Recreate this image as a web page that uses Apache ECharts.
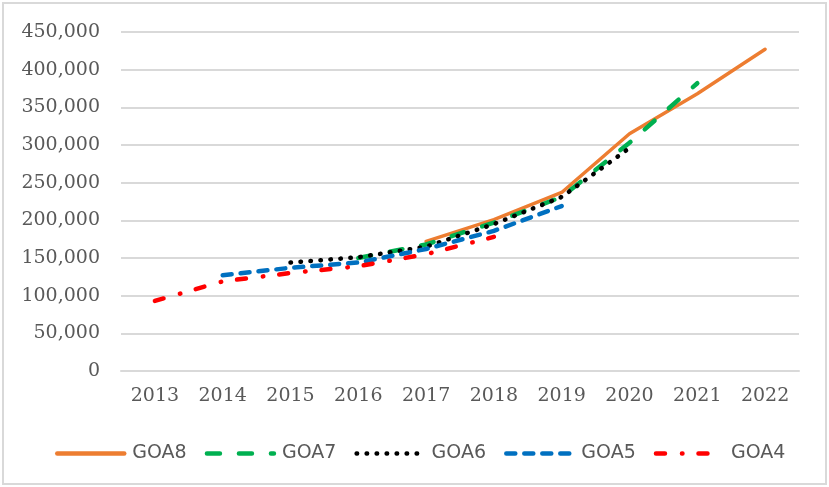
<!DOCTYPE html>
<html>
<head>
<meta charset="utf-8">
<script src="https://cdn.jsdelivr.net/npm/echarts@6/dist/echarts.min.js"></script>
<style>
  html, body { margin: 0; padding: 0; background: #fff; }
  #frame { position: absolute; left: 2px; top: 2px; width: 821px; height: 479px; border: 2px solid #d9d9d9; }
  #chart { position: absolute; left: 0; top: 0; width: 829px; height: 487px; }
</style>
</head>
<body>
<div id="frame"></div>
<div id="chart"></div>
<script>
// years on the category axis
const years = ['2013', '2014', '2015', '2016', '2017', '2018', '2019', '2020', '2021', '2022']
const yTicks = [0, 50000, 100000, 150000, 200000, 250000, 300000, 350000, 400000, 450000]

// each forecast covers six years; null where a series has no value
const goa8 = [null, null, null, null, 172000, 201000, 237000, 315000, 368000, 427000]
const goa7 = [null, null, null, 150000, 168000, 197000, 231000, 303000, 382000, null]
const goa6 = [null, null, 144000, 151000, 165000, 195000, 231000, 296000, null, null]
const goa5 = [null, 127000, 137000, 144000, 162000, 186000, 219000, null, null, null]
const goa4 = [93000, 119000, 130000, 139000, 155000, 178000, null, null, null, null]

const labelColor = '#595959'
const gridColor = '#d9d9d9'

function fmt (v) {
  return String(v).replace(/\B(?=(\d{3})+(?!\d))/g, ',')
}

function line (name, data, color, dash, width) {
  return {
    name: name,
    type: 'line',
    data: data,
    symbol: 'none',
    symbolSize: 0,
    showSymbol: false,
    animation: false,
    lineStyle: {
      color: color,
      width: width,
      type: dash,
      cap: 'round'
    },
    itemStyle: { color: color }
  }
}

const chart = echarts.init(document.getElementById('chart'))
chart.setOption({
  animation: false,
  grid: { left: 121, right: 30, top: 32, bottom: 116, containLabel: false },
  legend: {
    left: 55,
    top: 444,
    padding: 0,
    itemWidth: 67,
    itemHeight: 14,
    itemGap: 18,
    itemStyle: { opacity: 0, borderWidth: 0 },
    lineStyle: { width: 4.5, cap: 'round' },
    textStyle: {
      fontFamily: 'DejaVu Sans',
      fontSize: 19,
      color: labelColor,
      padding: [0, 0, 0, 3]
    },
    data: ['GOA8', 'GOA7', 'GOA6', 'GOA5', 'GOA4']
  },
  xAxis: {
    type: 'category',
    data: years,
    boundaryGap: true,
    axisLine: { lineStyle: { color: gridColor, width: 2 } },
    axisTick: { show: false },
    splitLine: { show: false },
    axisLabel: {
      margin: 16,
      color: labelColor,
      fontFamily: 'DejaVu Serif',
      fontSize: 19
    }
  },
  yAxis: {
    type: 'value',
    min: yTicks[0],
    max: yTicks[yTicks.length - 1],
    interval: yTicks[1] - yTicks[0],
    axisLine: { show: false },
    axisTick: { show: false },
    splitLine: { lineStyle: { color: gridColor, width: 2 } },
    axisLabel: {
      margin: 21,
      color: labelColor,
      fontFamily: 'DejaVu Serif',
      fontSize: 19,
      formatter: fmt
    }
  },
  series: [
    line('GOA8', goa8, '#ED7D31', 'solid', 3.5),
    line('GOA7', goa7, '#00B050', [13, 19], 4.5),
    line('GOA6', goa6, '#000000', [0.5, 9.5], 4.5),
    line('GOA5', goa5, '#0070C0', [9, 9], 4.5),
    line('GOA4', goa4, '#FF0000', [9, 17, 0.5, 16], 4.5)
  ]
})
</script>
</body>
</html>
